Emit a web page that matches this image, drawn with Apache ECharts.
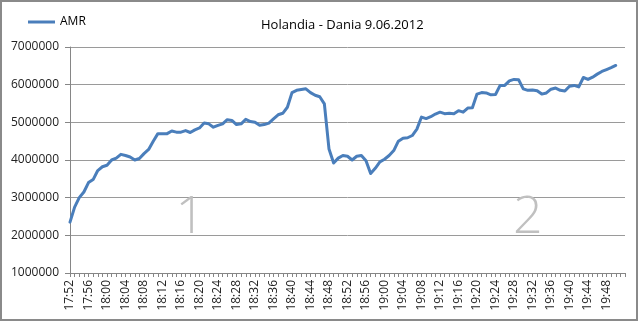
<!DOCTYPE html>
<html>
<head>
<meta charset="utf-8">
<script src="https://cdn.jsdelivr.net/npm/echarts@6/dist/echarts.min.js"></script>
<style>
html,body{margin:0;padding:0;background:#fff;}
#chart{width:640px;height:323px;}
</style>
</head>
<body>
<div id="chart"></div>
<script>
var categories = [
'17:52','17:53','17:54','17:55','17:56','17:57','17:58','17:59',
'18:00','18:01','18:02','18:03','18:04','18:05','18:06','18:07','18:08','18:09',
'18:10','18:11','18:12','18:13','18:14','18:15','18:16','18:17','18:18','18:19',
'18:20','18:21','18:22','18:23','18:24','18:25','18:26','18:27','18:28','18:29',
'18:30','18:31','18:32','18:33','18:34','18:35','18:36','18:37','18:38','18:39',
'18:40','18:41','18:42','18:43','18:44','18:45','18:46','18:47','18:48','18:49',
'18:50','18:51','18:52','18:53','18:54','18:55','18:56','18:57','18:58','18:59',
'19:00','19:01','19:02','19:03','19:04','19:05','19:06','19:07','19:08','19:09',
'19:10','19:11','19:12','19:13','19:14','19:15','19:16','19:17','19:18','19:19',
'19:20','19:21','19:22','19:23','19:24','19:25','19:26','19:27','19:28','19:29',
'19:30','19:31','19:32','19:33','19:34','19:35','19:36','19:37','19:38','19:39',
'19:40','19:41','19:42','19:43','19:44','19:45','19:46','19:47','19:48','19:49',
'19:50','19:51','19:52'
];
var amrValues = [
2350000,2750000,3000000,3150000,3400000,3480000,3720000,3820000,
3860000,4000000,4050000,4150000,4120000,4080000,4000000,4040000,4170000,4280000,
4500000,4700000,4700000,4700000,4770000,4740000,4740000,4780000,4730000,4800000,
4850000,4980000,4960000,4870000,4920000,4960000,5070000,5050000,4940000,4960000,
5080000,5020000,5000000,4920000,4940000,4980000,5090000,5200000,5240000,5400000,
5790000,5850000,5870000,5890000,5790000,5720000,5680000,5490000,4290000,3920000,
4050000,4120000,4100000,4000000,4100000,4120000,3980000,3640000,3780000,3950000,
4020000,4120000,4250000,4500000,4580000,4590000,4650000,4820000,5140000,5100000,
5150000,5220000,5270000,5230000,5240000,5230000,5310000,5270000,5380000,5390000,
5750000,5790000,5780000,5730000,5740000,5980000,5980000,6100000,6140000,6130000,
5890000,5850000,5860000,5840000,5750000,5780000,5880000,5910000,5850000,5830000,
5960000,5980000,5940000,6190000,6140000,6200000,6280000,6350000,6400000,6450000,
6510000,null,null
];
var shownLabelCount = 117; // labels drawn only up to 19:48, as in the source
var halfLabels = ['1','2'];
var halfAt = [['18:18',2450000],['19:31',2450000]];
var seriesName = 'AMR';
var titleText = 'Holandia - Dania 9.06.2012';

var FONT = '"Open Sans", "Noto Sans", sans-serif';
var chart = echarts.init(document.getElementById('chart'), null, {renderer:'canvas'});
chart.setOption({
  animation:false,
  backgroundColor:'#ffffff',
  textStyle:{fontFamily:FONT},
  title:{
    text:titleText, left:256, top:14,
    textStyle:{fontSize:13, fontWeight:'normal', color:'#000', fontFamily:FONT}
  },
  legend:{
    data:[seriesName], left:23, top:11, icon:'rect', itemWidth:27, itemHeight:3,
    textStyle:{fontSize:12, color:'#000', fontFamily:FONT}
  },
  grid:{left:70, right:15, top:47, bottom:50},
  xAxis:{
    type:'category', data:categories, boundaryGap:false,
    axisLine:{show:true, lineStyle:{color:'#868686', width:1}},
    axisTick:{show:true, interval:0, length:4, lineStyle:{color:'#868686'}},
    axisLabel:{
      interval:function(idx){ return idx % 4 === 0 && idx < shownLabelCount; },
      rotate:90, fontSize:12, color:'#222', margin:7, fontFamily:FONT
    },
    splitLine:{show:false}
  },
  yAxis:{
    type:'value', min:1000000, max:7000000, interval:1000000,
    axisLine:{show:true, lineStyle:{color:'#868686', width:1}},
    axisTick:{show:true, length:5, lineStyle:{color:'#868686'}},
    axisLabel:{fontSize:12, color:'#222', margin:11, fontFamily:FONT,
      formatter:function(v){ return String(v); }},
    splitLine:{show:true, lineStyle:{color:'#9a9a9a', width:1}}
  },
  series:[{
    name:seriesName, type:'line', data:amrValues, symbol:'none', smooth:false,
    connectNulls:false,
    lineStyle:{color:'#4a7ebb', width:3, join:'round', cap:'round'},
    itemStyle:{color:'#4a7ebb'},
    markPoint:{
      silent:true, symbol:'circle', symbolSize:0,
      data: halfLabels.map(function(t,i){
        return {coord:halfAt[i], value:t,
          label:{show:true, formatter:t, position:'inside', fontSize:52, fontWeight:300,
                 color:'#c0c0c0', fontFamily:FONT}};
      })
    }
  }],
  graphic:[{
    type:'rect', silent:true, z:100,
    shape:{x:1, y:1, width:636, height:319},
    style:{fill:'none', stroke:'#8a8a8a', lineWidth:2}
  }]
});
</script>
</body>
</html>
